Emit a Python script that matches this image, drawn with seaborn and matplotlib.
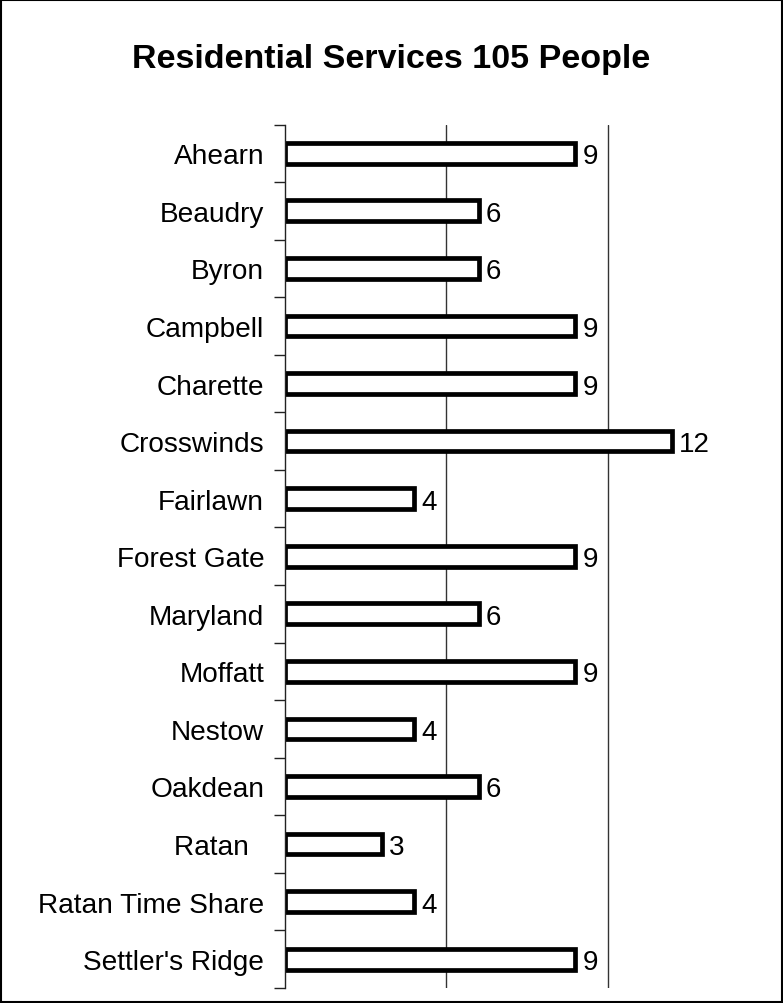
import matplotlib
matplotlib.use("Agg")
import matplotlib.pyplot as plt
from matplotlib.patches import Rectangle
import seaborn as sns
import pandas as pd

sites = ["Ahearn", "Beaudry", "Byron", "Campbell", "Charette", "Crosswinds",
         "Fairlawn", "Forest Gate", "Maryland", "Moffatt", "Nestow", "Oakdean",
         "Ratan  ", "Ratan Time Share", "Settler's Ridge"]
people = [9, 6, 6, 9, 9, 12, 4, 9, 6, 9, 4, 6, 3, 4, 9]
title = "Residential Services 105 People"

sns.set_theme(style="white")
plt.rcParams["font.family"] = ["Liberation Sans", "DejaVu Sans"]
plt.rcParams["text.color"] = "black"

df = pd.DataFrame({"site": sites, "people": people})

fig = plt.figure(figsize=(7.83, 10.04), dpi=100)
ax = fig.add_axes([0.364, 0.015, 0.577, 0.86])

sns.barplot(data=df, x="people", y="site", orient="h", color="white",
            saturation=1, edgecolor="black", linewidth=3.4, width=0.36, ax=ax)

ax.set_xlim(0, 14)
ax.set_ylim(len(sites) - 0.5, -0.5)
for v in (5, 10):
    ax.axvline(v, color="#333333", lw=1, zorder=0)

for c in ax.containers:
    labels = ax.bar_label(c, labels=[str(v) for v in people], padding=5,
                          fontsize=20, color="black")
    for t in labels:
        t.set_va("center_baseline")

for s in ("top", "right", "bottom"):
    ax.spines[s].set_visible(False)
ax.spines["left"].set_color("#222222")
ax.spines["left"].set_linewidth(1)
ax.set_xticks([])
ax.set_xlabel("")
ax.set_ylabel("")
ax.tick_params(axis="y", which="major", length=0, pad=15, labelsize=20.2, labelcolor="black")
ax.set_yticks([i - 0.5 for i in range(len(sites) + 1)], minor=True)
ax.tick_params(axis="y", which="minor", left=True, length=8, width=1, color="#222222")

fig.text(0.5, 0.941, title, ha="center", va="center", fontsize=24.5,
         fontweight="bold", color="black")
fig.patches.append(Rectangle((0.001, 0.001), 0.998, 0.998, transform=fig.transFigure,
                             fill=False, edgecolor="black", lw=1.5))

fig.savefig("out.png", dpi=100, facecolor="white")
